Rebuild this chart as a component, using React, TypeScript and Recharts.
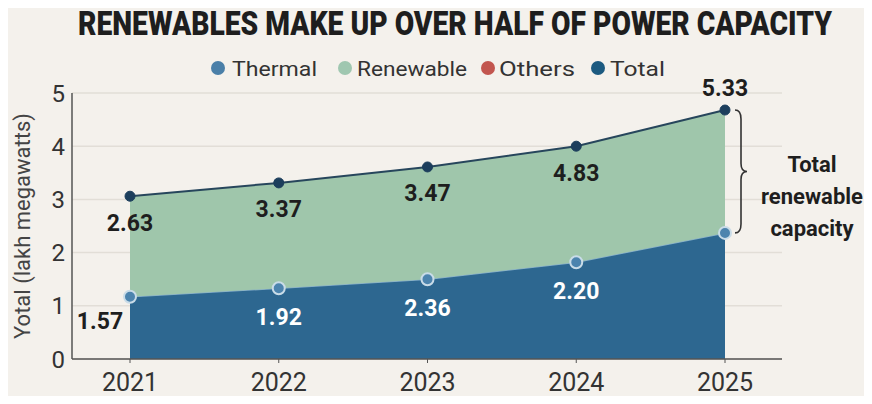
import React from 'react';
import { ComposedChart, Area, Line, XAxis, YAxis, CartesianGrid, LabelList, ReferenceLine } from 'recharts';

// values (lakh MW)
const years = ['2021', '2022', '2023', '2024', '2025'];
const thermal = [1.17, 1.33, 1.5, 1.82, 2.37];
const renewable = [1.89, 1.98, 2.11, 2.18, 2.31];
const total = [3.06, 3.31, 3.61, 4.0, 4.68];
const totalLabels = ['2.63', '3.37', '3.47', '4.83', '5.33'];
const thermalLabels = ['1.57', '1.92', '2.36', '2.20', ''];
const yTicks = [0, 1, 2, 3, 4, 5];

const legendItems = [
    { name: 'Thermal', color: '#4a7fa8', dotX: 218, textX: 232, w: 85 },
    { name: 'Renewable', color: '#9fc7b0', dotX: 345, textX: 357, w: 110 },
    { name: 'Others', color: '#c2564f', dotX: 488, textX: 499, w: 76 },
    { name: 'Total', color: '#1c5a80', dotX: 598, textX: 610, w: 55 },
];

const FONT = 'Roboto, "DejaVu Sans", sans-serif';
const BG = '#f4f1ec';

const data = years.map((year, i) => ({
    year,
    thermal: thermal[i],
    renewable: renewable[i],
    total: total[i],
    totalLabel: totalLabels[i],
    thermalLabel: thermalLabels[i],
}));

// labels sitting under the total line (last one goes above)
const TotalLabel = (props: any) => {
    const { x, y, value, index } = props;
    const last = index === years.length - 1;
    return (
        <text x={x} y={last ? y - 22 : y + 27} textAnchor="middle" dominantBaseline="central"
            fontFamily={FONT} fontWeight="bold" fontSize={23} fill="#1e1e1e">
            {value}
        </text>
    );
};

// labels inside the thermal area
const ThermalLabel = (props: any) => {
    const { x, y, value, index } = props;
    if (!value) return null;
    const first = index === 0;
    return (
        <text x={first ? x - 30 : x} y={first ? y + 25 : y + 29} textAnchor="middle" dominantBaseline="central"
            fontFamily={FONT} fontWeight="bold" fontSize={23} fill={first ? '#1e1e1e' : '#ffffff'}>
            {value}
        </text>
    );
};

const YLabel = (props: any) => {
    const { viewBox } = props;
    const cx = viewBox.x + 22;
    const cy = viewBox.y + viewBox.height / 2;
    return (
        <text x={cx} y={cy} transform={`rotate(-90 ${cx} ${cy})`} textAnchor="middle" dominantBaseline="central"
            fontFamily={FONT} fontSize={22} fill="#444">
            Yotal (lakh megawatts)
        </text>
    );
};

// curly brace + note next to the 2025 renewable band
const Brace = (props: any) => {
    const { x1, y1, y2 } = props;
    const top = Math.min(y1, y2);
    const bot = Math.max(y1, y2);
    const mid = (top + bot) / 2;
    const x0 = x1 + 10;
    const d = `M ${x0} ${top} Q ${x0 + 6} ${top} ${x0 + 6} ${top + 9} L ${x0 + 6} ${mid - 8} Q ${x0 + 6} ${mid} ${x0 + 12} ${mid}` +
        ` Q ${x0 + 6} ${mid} ${x0 + 6} ${mid + 8} L ${x0 + 6} ${bot - 9} Q ${x0 + 6} ${bot} ${x0} ${bot}`;
    const tx = x1 + 87;
    return (
        <g>
            <path d={d} fill="none" stroke="#333" strokeWidth={1.6} />
            {['Total', 'renewable', 'capacity'].map((t, i) => (
                <text key={t} x={tx} y={mid - 7 + i * 32} textAnchor="middle" dominantBaseline="central"
                    fontFamily={FONT} fontWeight="bold" fontSize={22} fill="#1e1e1e">
                    {t}
                </text>
            ))}
        </g>
    );
};

export default function App() {
    return (
        <div style={{ position: 'relative', width: 872, height: 404, margin: -8, background: BG, overflow: 'hidden' }}>
            <svg width={872} height={90} style={{ position: 'absolute', left: 0, top: 0 }}>
                {/* condensed-looking title: small font stretched vertically */}
                <g transform="translate(455 35) scale(1 1.3)">
                    <text x={0} y={0} textAnchor="middle" fontFamily={FONT} fontWeight={900} fontSize={26}
                        fill="#1e1e1e" textLength={754} lengthAdjust="spacingAndGlyphs">
                        RENEWABLES MAKE UP OVER HALF OF POWER CAPACITY
                    </text>
                </g>
                {legendItems.map(item => (
                    <g key={item.name}>
                        <circle cx={item.dotX} cy={68} r={7} fill={item.color} />
                        <text x={item.textX} y={76} fontFamily={FONT} fontSize={21} fill="#333"
                            textLength={item.w} lengthAdjust="spacingAndGlyphs">
                            {item.name}
                        </text>
                    </g>
                ))}
            </svg>
            <ComposedChart width={872} height={404} data={data} margin={{ top: 93, right: 90, bottom: 0, left: 0 }}>
                <CartesianGrid vertical={false} stroke="#e2ded7" strokeWidth={1.5} />
                <XAxis dataKey="year" padding={{ left: 58, right: 57 }} height={45} tickSize={4} tickMargin={10}
                    axisLine={{ stroke: '#555', strokeWidth: 1.5 }} tickLine={{ stroke: '#555' }}
                    tick={{ fontSize: 25, fill: '#333', fontFamily: FONT }} />
                <YAxis domain={[0, 5]} ticks={yTicks} width={72} tickSize={0} tickMargin={7}
                    axisLine={{ stroke: '#555', strokeWidth: 1.5 }}
                    tick={{ fontSize: 24, fill: '#333', fontFamily: FONT }}
                    label={<YLabel />} />
                <Area type="linear" dataKey="thermal" stackId="cap" fill="#2d6790" fillOpacity={1}
                    stroke="#86afca" strokeWidth={1.5} isAnimationActive={false}
                    dot={{ r: 6, fill: '#4c84ae', stroke: '#c9dce8', strokeWidth: 2, fillOpacity: 1 }}>
                    <LabelList dataKey="thermalLabel" content={<ThermalLabel />} />
                </Area>
                <Area type="linear" dataKey="renewable" stackId="cap" fill="#9fc6ab" fillOpacity={1}
                    stroke="none" isAnimationActive={false} />
                <Line type="linear" dataKey="total" stroke="#27465c" strokeWidth={2} isAnimationActive={false}
                    dot={{ r: 5, fill: '#1c3e5c', stroke: '#1c3e5c', strokeWidth: 1 }}>
                    <LabelList dataKey="totalLabel" content={<TotalLabel />} />
                </Line>
                <ReferenceLine ifOverflow="visible"
                    segment={[{ x: years[4], y: thermal[4] }, { x: years[4], y: total[4] }]}
                    shape={<Brace />} />
            </ComposedChart>
        </div>
    );
}
